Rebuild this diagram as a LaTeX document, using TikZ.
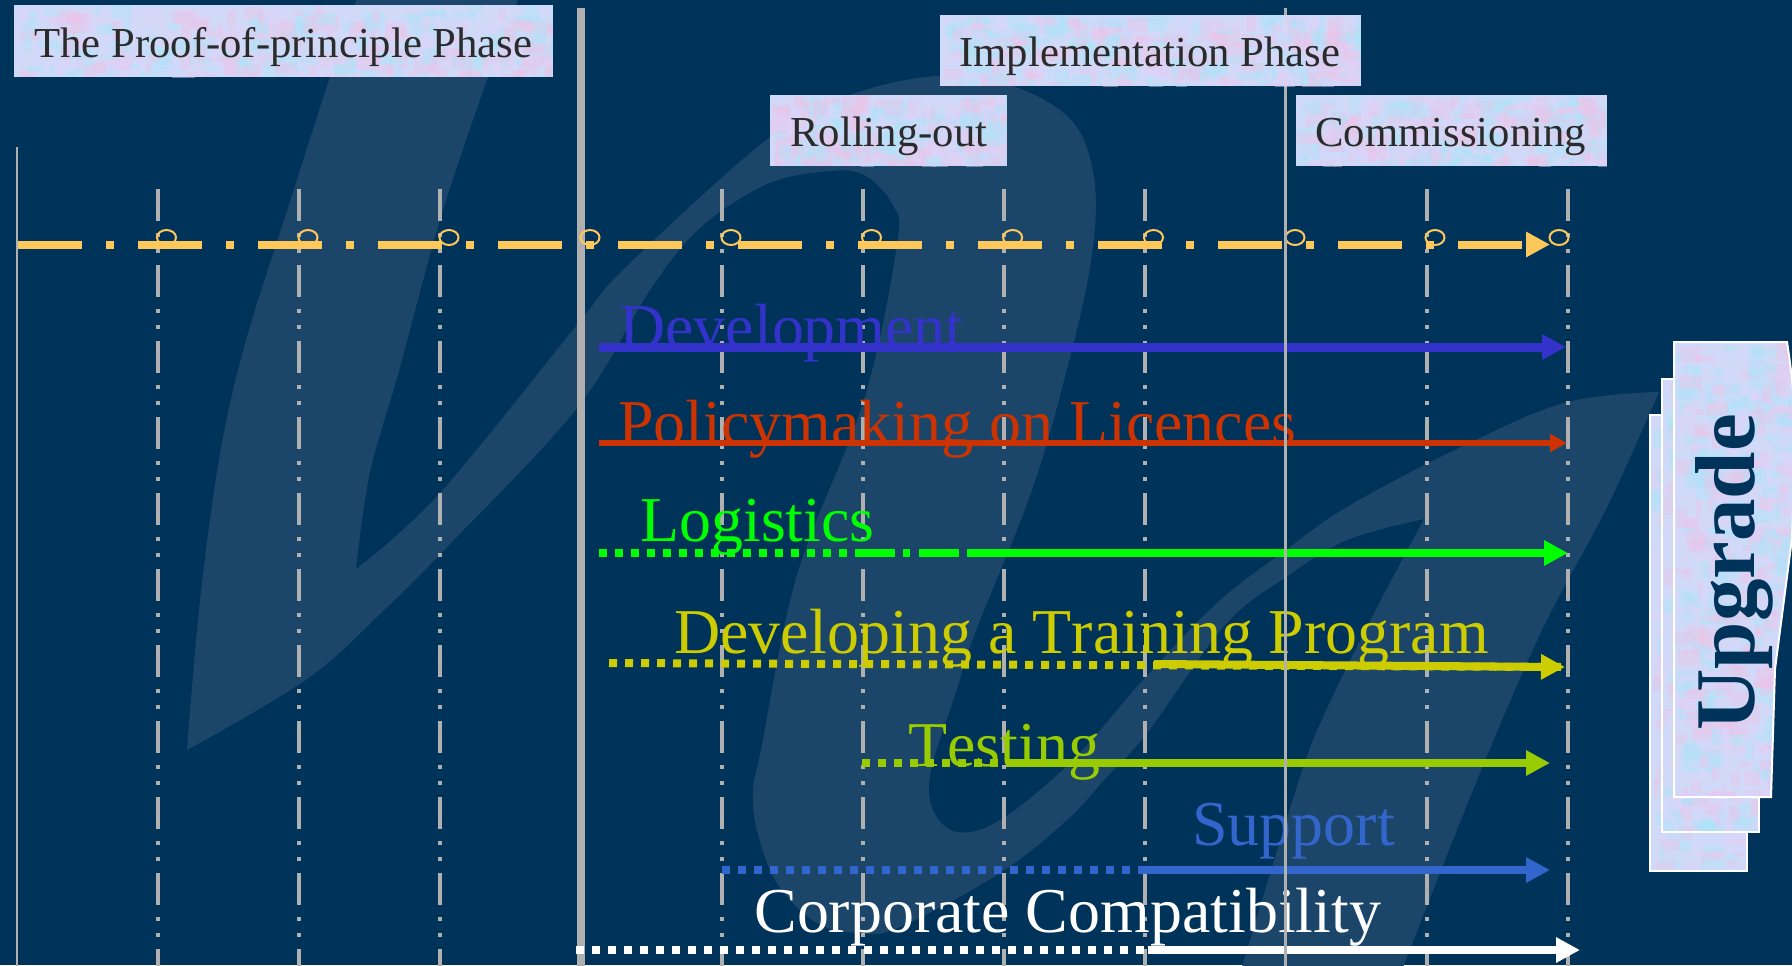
\documentclass[tikz,border=0pt]{standalone}
\usepackage{fontspec}
\setmainfont[Kerning=Off]{Liberation Serif}
\usetikzlibrary{arrows.meta}
\definecolor{bgc}{HTML}{003359}
\definecolor{wmc}{HTML}{1C4669}
\definecolor{tickc}{HTML}{B0B0B0}
\definecolor{railc}{HTML}{FFC85A}
\definecolor{devc}{HTML}{3333CC}
\definecolor{polc}{HTML}{CC3300}
\definecolor{logc}{HTML}{00FF00}
\definecolor{trnc}{HTML}{CCCC00}
\definecolor{tstc}{HTML}{99CC00}
\definecolor{supc}{HTML}{3366CC}
\definecolor{inkc}{HTML}{2B2B2B}
\definecolor{texbase}{HTML}{D0DAF8}
\definecolor{texa}{HTML}{EBC4E8}
\definecolor{texb}{HTML}{AEE4FA}
\definecolor{texc}{HTML}{DCD4FA}
\tikzset{
  x=0.5pt,y=-0.5pt,
  tickline/.style={tickc,line width=2pt,dash pattern=on 16pt off 6pt on 2pt off 6pt on 2pt off 6pt},
  railbar/.style={railc,line width=4pt,dash pattern=on 31.75pt off 12.25pt on 4pt off 12pt,-{Triangle[length=12pt,width=12pt]}},
  ringmark/.style={railc,line width=1pt},
  dotbar/.style={line width=4pt,dash pattern=on 4pt off 4pt},
  solidbar/.style={line width=4pt,-{Triangle[length=12pt,width=12pt]}},
  boxlabel/.style={anchor=base west,inner sep=0pt,text=inkc,font=\fontsize{21.35}{24}\selectfont},
  barlabel/.style={anchor=base west,inner sep=0pt,font=\fontsize{31.95}{34}\selectfont},
  upedge/.style={draw=white,line width=1pt},
}
\newcommand{\mottle}[5]{%
  \fill[texbase] (#1,#2) rectangle (#3,#4);
  \foreach \i in {1,...,#5}{%
    \pgfmathsetmacro\ptx{#1+rnd*(#3-#1)}%
    \pgfmathsetmacro\pty{#2+rnd*(#4-#2)}%
    \pgfmathsetmacro\pte{min(\ptx+4+rnd*20,#3)}%
    \pgfmathsetmacro\ptf{min(\pty+4+rnd*16,#4)}%
    \pgfmathtruncatemacro\pick{mod(\i,3)}%
    \ifcase\pick\def\pc{texa}\or\def\pc{texb}\else\def\pc{texc}\fi
    \fill[\pc,opacity=0.45] (\ptx,\pty) rectangle (\pte,\ptf);
  }%
}
\newcommand{\flatbox}[4]{\mottle{#1}{#2}{#3}{#4}{420}}
\begin{document}
\begin{tikzpicture}
\pgfmathsetseed{4711}
\useasboundingbox (0,0) rectangle (1792,965);
\begin{scope}
\clip (0,0) rectangle (1792,965);
\fill[bgc] (0,0) rectangle (1792,965);
% watermark
\fill[wmc]
  plot[smooth,tension=.6] coordinates {(358,-5) (330,77) (287,211) (245,344) (220,454) (200,601) (187,750)}
  -- plot[smooth,tension=.6] coordinates {(187,750) (307,679) (382,612) (448,546) (577,408) (650,290) (700,228) (765,185) (820,172) (862,174) (893,205) (897,245) (864,400) (797,575) (761,750) (753,790) (757,830) (777,883) (817,923) (860,933) (900,927) (1000,873) (1067,820) (1104,780) (1147,733) (1225,625) (1286,577) (1347,540) (1424,519)}
  -- plot[smooth,tension=.6] coordinates {(1424,519) (1369,623) (1325,713) (1299,780) (1241,970)}
  -- (1402,970)
  -- plot[smooth,tension=.6] coordinates {(1402,970) (1477,780) (1542,630) (1607,507) (1659,392)}
  -- plot[smooth,tension=.6] coordinates {(1659,392) (1564,403) (1455,450) (1347,507) (1286,550) (1217,603) (1143,680) (1071,762) (1000,820) (957,832) (933,810) (931,770) (956,692) (975,633) (1033,487) (1071,353) (1092,254) (1094,178) (1071,120) (1010,85) (937,76) (850,95) (770,137) (627,266) (577,325) (440,493) (356,569)}
  -- plot[smooth,tension=.6] coordinates {(356,569) (370,472) (399,371) (440,220) (488,77) (520,-5)}
  -- cycle;
% ticks
\foreach \tx in {158.4,299,440,721.5,863,1003.5,1145,1427,1567.6}
  \draw[tickline] (\tx,189) -- (\tx,975);
\draw[tickc,line width=1.25pt] (17.2,147) -- (17.2,975);
\draw[tickc,line width=3.75pt] (581,8) -- (581,975);
% rings
\foreach \cx in {166.5,308,449,590,731,871.5,1012.6,1153.5,1295,1435,1559}
  \draw[ringmark] (\cx,237.5) ellipse (9.5 and 7.5);
% timeline
\coordinate (railA) at (18,244.5);
\coordinate (railB) at (1550,244.5);
\draw[railbar] (railA) -- (railB);
% named ends
\coordinate (devA) at (599,347);  \coordinate (devB) at (1566,347);
\coordinate (polA) at (599,443);  \coordinate (polB) at (1567,443);
\coordinate (logA) at (599,553);  \coordinate (logM) at (862,553); \coordinate (logN) at (967,553); \coordinate (logB) at (1568,553);
\coordinate (trnA) at (609,663);  \coordinate (trnM) at (1154,664); \coordinate (trnB) at (1565,667);
\coordinate (tstA) at (862,763);  \coordinate (tstM) at (1007,763); \coordinate (tstB) at (1550,763);
\coordinate (supA) at (722,870);  \coordinate (supM) at (1138,870); \coordinate (supB) at (1550,870);
\coordinate (corA) at (576,950);  \coordinate (corM) at (1148,950); \coordinate (corB) at (1580,950);
% labels
\node[barlabel,text=devc] (ldev) at (619,348) {Development};
\node[barlabel,text=polc] (lpol) at (618,444) {Policymaking on Licences};
\node[barlabel,text=logc] (llog) at (640,541) {Logistics};
\node[barlabel,text=trnc] (ltrn) at (674,653) {Developing a Training Program};
\node[barlabel,text=tstc] (ltst) at (908,766) {Testing};
\node[barlabel,text=supc] (lsup) at (1192,845) {Support};
\node[barlabel,text=white] (lcor) at (754,932) {Corporate Compatibility};
% bars
\draw[solidbar,devc,line width=4.5pt] (devA) -- (devB);
\draw[solidbar,polc,line width=2.75pt,-{Triangle[length=8.5pt,width=8.5pt]}] (polA) -- (polB);
\draw[dotbar,logc] (logA) -- (logM);
\draw[logc,line width=4pt,dash pattern=on 16.5pt off 4pt on 3.5pt off 4.5pt on 20pt off 4pt] (logM) -- (logN);
\draw[solidbar,logc] (logN) -- (logB);
\draw[dotbar,trnc] (trnA) -- (trnB);
\draw[solidbar,trnc] (trnM) -- (trnB);
\draw[dotbar,tstc] (tstA) -- (tstM);
\draw[solidbar,tstc] (tstM) -- (tstB);
\draw[dotbar,supc] (supA) -- (supM);
\draw[solidbar,supc] (supM) -- (supB);
\draw[dotbar,white] (corA) -- (corM);
\draw[solidbar,white] (corM) -- (corB);
% thin phase line
\draw[tickc,line width=1.25pt] (1285.4,8) -- (1285.4,975);
% label boxes
\flatbox{14}{5}{553}{77}
\flatbox{770}{95}{1007}{166}
\flatbox{940}{15}{1361}{86}
\flatbox{1296}{95}{1607}{166}
\node[boxlabel] (phaseA) at (34,57.5) {The Proof-of-principle Phase};
\node[boxlabel] (rollT) at (790,146) {Rolling-out};
\node[boxlabel] (phaseB) at (959,66) {Implementation Phase};
\node[boxlabel] (commT) at (1315,146) {Commissioning};
% upgrade stack
\mottle{1650}{415}{1747}{871}{420}
\draw[upedge] (1650,415) rectangle (1747,871);
\mottle{1662}{379}{1759}{832}{420}
\draw[upedge] (1662,379) rectangle (1759,832);
\def\frontpath{(1674,342) -- (1787,342) .. controls (1792,375) and (1795,400) .. (1795,450) -- (1792,538) -- (1775,669) -- (1771,797) -- (1674,797) -- cycle}
\begin{scope}\clip \frontpath;\mottle{1674}{342}{1795}{797}{520}\end{scope}
\draw[upedge] \frontpath;
\node[anchor=base west,inner sep=0pt,rotate=90,text=bgc,font=\fontsize{42.5}{46}\selectfont\bfseries] (upT) at (1754,731) {Upgrade};
\end{scope}
\end{tikzpicture}
\end{document}
